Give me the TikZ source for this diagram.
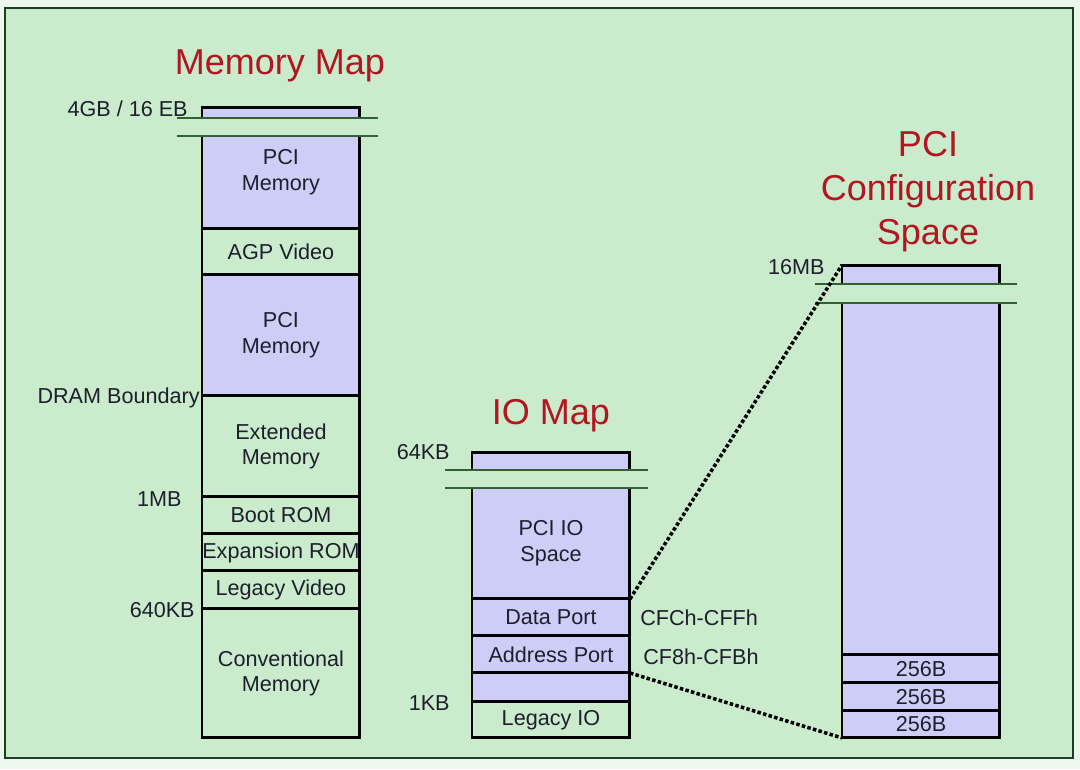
\documentclass[tikz,border=0pt]{standalone}
\usepackage{fontspec}
\setmainfont{Liberation Sans}
\usepackage{xcolor}
\usepackage{tikz}
\usetikzlibrary{positioning}

\definecolor{pageedge}{RGB}{236,248,237}
\definecolor{bggreen}{RGB}{202,236,205}
\definecolor{framegreen}{RGB}{30,62,36}
\definecolor{breakgreen}{RGB}{48,96,52}
\definecolor{cellblue}{RGB}{205,205,248}
\definecolor{inktext}{RGB}{30,30,44}
\definecolor{titlered}{RGB}{178,22,32}

\tikzset{
	cell/.style={draw=black, line width=1.7pt, outer sep=0pt, inner sep=0pt, minimum width=3.16cm, minimum height=#1, align=center, text=inktext, font=\fontsize{12.3}{14.6}\selectfont},
	bluecell/.style={cell=#1, fill=cellblue},
	greencell/.style={cell=#1, fill=bggreen},
	opencell/.style={cell=#1, fill=cellblue, draw=none},
	edge/.style={black, line width=1.7pt},
	brk/.style={breakgreen, line width=1.1pt},
	dots/.style={black, line width=2pt, dash pattern=on 2pt off 1.3pt},
	lbl/.style={text=inktext, font=\fontsize{12.3}{14.6}\selectfont, inner sep=0pt},
	ttl/.style={text=titlered, font=\fontsize{20.5}{25}\selectfont, align=center, inner sep=0pt}
}

\begin{document}
\begin{tikzpicture}[x=0.02cm, y=-0.02cm]
	\fill[pageedge] (0,0) rectangle (1080,769);
	\draw[framegreen, line width=1.3pt, fill=bggreen] (5,8) rectangle (1073,758);

	% memory map
	\node[opencell=0.22cm, anchor=north west] (memcap) at (202,107) {};
	\node[opencell=1.86cm, text depth=0.49cm, below=0.36cm of memcap] (pcimemA) {PCI\\Memory};
	\node[greencell=0.92cm, below=0pt of pcimemA] (agp) {AGP Video};
	\node[bluecell=2.42cm, below=0pt of agp] (pcimemB) {PCI\\Memory};
	\node[greencell=2.02cm, below=0pt of pcimemB] (extmem) {Extended\\Memory};
	\node[greencell=0.74cm, below=0pt of extmem] (bootrom) {Boot ROM};
	\node[greencell=0.74cm, below=0pt of bootrom] (exprom) {Expansion ROM};
	\node[greencell=0.76cm, below=0pt of exprom] (legvid) {Legacy Video};
	\node[greencell=2.58cm, below=0pt of legvid] (convmem) {Conventional\\Memory};
	\draw[edge] (memcap.south west) |- (memcap.north east) -- (memcap.south east);
	\draw[edge] (pcimemA.north west) -- (pcimemA.south west) -- (pcimemA.south east) -- (pcimemA.north east);
	\draw[brk] ([xshift=-0.5cm]memcap.south west) -- ([xshift=0.36cm]memcap.south east);
	\draw[brk] ([xshift=-0.5cm]pcimemA.north west) -- ([xshift=0.36cm]pcimemA.north east);

	% io map
	\node[opencell=0.36cm, anchor=north west] (iocap) at (472,452) {};
	\node[opencell=2.22cm, below=0.36cm of iocap] (pciio) {PCI IO\\Space};
	\node[bluecell=0.74cm, below=0pt of pciio] (dataport) {Data Port};
	\node[bluecell=0.74cm, below=0pt of dataport] (addrport) {Address Port};
	\node[bluecell=0.58cm, below=0pt of addrport] (ioblank) {};
	\node[greencell=0.72cm, below=0pt of ioblank] (legio) {Legacy IO};
	\draw[edge] (iocap.south west) |- (iocap.north east) -- (iocap.south east);
	\draw[edge] (pciio.north west) -- (pciio.south west) -- (pciio.south east) -- (pciio.north east);
	\draw[brk] ([xshift=-0.54cm]iocap.south west) -- ([xshift=0.36cm]iocap.south east);
	\draw[brk] ([xshift=-0.54cm]pciio.north west) -- ([xshift=0.36cm]pciio.north east);

	% pci configuration space
	\node[opencell=0.38cm, anchor=north west] (cfgcap) at (842,265) {};
	\node[opencell=7.04cm, below=0.38cm of cfgcap] (cfgspace) {};
	\node[bluecell=0.56cm, below=0pt of cfgspace] (blockA) {256B};
	\node[bluecell=0.56cm, below=0pt of blockA] (blockB) {256B};
	\node[bluecell=0.54cm, below=0pt of blockB] (blockC) {256B};
	\draw[edge] (cfgcap.south west) |- (cfgcap.north east) -- (cfgcap.south east);
	\draw[edge] (cfgspace.north west) -- (cfgspace.south west) -- (cfgspace.south east) -- (cfgspace.north east);
	\draw[brk] ([xshift=-0.54cm]cfgcap.south west) -- ([xshift=0.34cm]cfgcap.south east);
	\draw[brk] ([xshift=-0.54cm]cfgspace.north west) -- ([xshift=0.34cm]cfgspace.north east);

	\draw[dots] (pciio.south east) -- (cfgcap.north west);
	\draw[dots] (addrport.south east) -- (blockC.south west);

	% labels
	\node[lbl, anchor=east] (lbltop) at ([xshift=-0.28cm, yshift=-0.04cm]memcap.north west) {4GB / 16 EB};
	\node[lbl, anchor=east] (lbldram) at ([xshift=-0.04cm, yshift=-0.04cm]pcimemB.south west) {DRAM Boundary};
	\node[lbl, anchor=east] (lblmb) at ([xshift=-0.4cm, yshift=-0.04cm]bootrom.north west) {1MB};
	\node[lbl, anchor=east] (lblkb) at ([xshift=-0.14cm, yshift=-0.02cm]convmem.north west) {640KB};
	\node[lbl, anchor=east] (lbliotop) at ([xshift=-0.44cm]iocap.north west) {64KB};
	\node[lbl, anchor=east] (lbliokb) at ([xshift=-0.44cm, yshift=-0.02cm]legio.north west) {1KB};
	\node[lbl, anchor=west] (lbldata) at ([xshift=0.2cm]dataport.east) {CFCh-CFFh};
	\node[lbl, anchor=west] (lbladdr) at ([xshift=0.26cm, yshift=-0.04cm]addrport.east) {CF8h-CFBh};
	\node[lbl, anchor=east] (lblcfg) at ([xshift=-0.34cm, yshift=-0.04cm]cfgcap.north west) {16MB};

	\node[ttl] (memtitle) at (280,66) {Memory Map};
	\node[ttl] (iotitle) at (551,416) {IO Map};
	\node[ttl] (cfgtitle) at (928,192) {PCI\\Configuration\\Space};
\end{tikzpicture}
\end{document}
